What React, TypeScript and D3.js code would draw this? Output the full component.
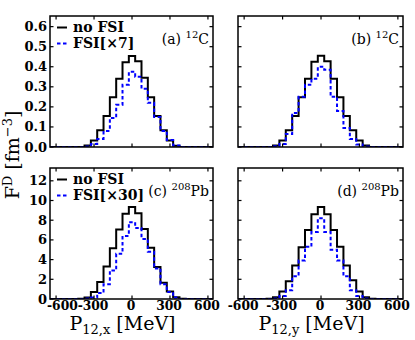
import React, { useRef, useEffect } from "react";
import * as d3 from "d3";

// bin centres in MeV, 50 MeV wide bins
const binCenters = [-400, -350, -300, -250, -200, -150, -100, -50, 0, 50, 100, 150, 200, 250, 300, 350, 400];
const binWidth = 50;

// 12C, P12,x
const carbonXNoFsi = [0, 0.007, 0.033, 0.083, 0.155, 0.248, 0.34, 0.423, 0.453, 0.428, 0.345, 0.248, 0.155, 0.083, 0.033, 0.006, 0];
const carbonXFsi = [0, 0.003, 0.015, 0.04, 0.08, 0.145, 0.21, 0.31, 0.375, 0.35, 0.29, 0.22, 0.15, 0.08, 0.035, 0.008, 0];
// 12C, P12,y
const carbonYNoFsi = [0, 0.007, 0.033, 0.083, 0.155, 0.248, 0.34, 0.425, 0.455, 0.428, 0.34, 0.248, 0.155, 0.083, 0.033, 0.007, 0];
const carbonYFsi = [0, 0.004, 0.015, 0.065, 0.17, 0.25, 0.31, 0.34, 0.4, 0.385, 0.25, 0.18, 0.095, 0.04, 0.012, 0.003, 0];
// 208Pb, P12,x
const leadXNoFsi = [0.02, 0.15, 0.72, 1.72, 3.3, 5.15, 7.05, 8.65, 9.35, 8.7, 7.1, 5.2, 3.25, 1.65, 0.75, 0.17, 0.02];
const leadXFsi = [0, 0.05, 0.15, 0.6, 1.5, 2.9, 4.6, 6.4, 7.8, 7.2, 6.1, 4.8, 3.1, 1.5, 0.7, 0.15, 0];
// 208Pb, P12,y
const leadYNoFsi = [0.02, 0.17, 0.75, 1.8, 3.4, 5.25, 7.0, 8.6, 9.35, 8.6, 7.0, 5.3, 3.4, 1.9, 0.75, 0.17, 0.02];
const leadYFsi = [0, 0.05, 0.3, 0.9, 2.3, 3.9, 5.3, 6.8, 8.2, 6.8, 5.0, 3.9, 2.3, 0.9, 0.3, 0.05, 0];

const xTicks = [-600, -300, 0, 300, 600];
const carbonTicks = [0, 0.1, 0.2, 0.3, 0.4, 0.5, 0.6];
const leadTicks = [0, 2, 4, 6, 8, 10, 12];

const FONT = "'DejaVu Serif', serif";
const BLUE = "#0000ff";

const App = () => {
    const svgRef = useRef(null);

    useEffect(() => {
        const svg = d3.select(svgRef.current);
        svg.selectAll("*").remove();

        const xDomain = [-648, 640];
        const cols = [[50, 213], [238, 403]];
        const rows = [[147, 16], [299, 168]];

        const panels = [
            { col: 0, row: 0, noFsi: carbonXNoFsi, fsi: carbonXFsi, yMax: 0.653, ticks: carbonTicks, fmt: d3.format(".1f"), label: "(a)", nuc: "12", el: "C", legend: "FSI[×7]", yLabels: true, xLabels: false },
            { col: 1, row: 0, noFsi: carbonYNoFsi, fsi: carbonYFsi, yMax: 0.653, ticks: carbonTicks, fmt: d3.format(".1f"), label: "(b)", nuc: "12", el: "C", legend: null, yLabels: false, xLabels: false },
            { col: 0, row: 1, noFsi: leadXNoFsi, fsi: leadXFsi, yMax: 13.3, ticks: leadTicks, fmt: d3.format("d"), label: "(c)", nuc: "208", el: "Pb", legend: "FSI[×30]", yLabels: true, xLabels: true },
            { col: 1, row: 1, noFsi: leadYNoFsi, fsi: leadYFsi, yMax: 13.3, ticks: leadTicks, fmt: d3.format("d"), label: "(d)", nuc: "208", el: "Pb", legend: null, yLabels: false, xLabels: true },
        ];

        panels.forEach((p, i) => {
            const x = d3.scaleLinear().domain(xDomain).range(cols[p.col]);
            const y = d3.scaleLinear().domain([0, p.yMax]).range(rows[p.row]);
            const [x0, x1] = cols[p.col];
            const [yb, yt] = rows[p.row];
            const g = svg.append("g");

            g.append("clipPath").attr("id", "clip" + i)
                .append("rect").attr("x", x0).attr("y", yt).attr("width", x1 - x0).attr("height", yb - yt);

            // stairs through the bin edges
            const stairs = (vals) => {
                const pts = [[xDomain[0], 0], [binCenters[0] - binWidth / 2, 0]];
                binCenters.forEach((c, k) => {
                    pts.push([c - binWidth / 2, vals[k]]);
                    pts.push([c + binWidth / 2, vals[k]]);
                });
                pts.push([binCenters[binCenters.length - 1] + binWidth / 2, 0]);
                pts.push([xDomain[1], 0]);
                return d3.line().x(d => x(d[0])).y(d => y(d[1]))(pts);
            };

            const plot = g.append("g").attr("clip-path", `url(#clip${i})`);
            plot.append("path").attr("d", stairs(p.noFsi))
                .attr("fill", "none").attr("stroke", "#000").attr("stroke-width", 2);
            plot.append("path").attr("d", stairs(p.fsi))
                .attr("fill", "none").attr("stroke", BLUE).attr("stroke-width", 2)
                .attr("stroke-dasharray", "3.5,2.5");

            // frame + inward ticks on all sides
            g.append("rect").attr("x", x0).attr("y", yt).attr("width", x1 - x0).attr("height", yb - yt)
                .attr("fill", "none").attr("stroke", "#000").attr("stroke-width", 1.5);
            const tl = 3.5;
            xTicks.forEach(t => {
                g.append("line").attr("x1", x(t)).attr("x2", x(t)).attr("y1", yb).attr("y2", yb - tl).attr("stroke", "#000").attr("stroke-width", 1.2);
                g.append("line").attr("x1", x(t)).attr("x2", x(t)).attr("y1", yt).attr("y2", yt + tl).attr("stroke", "#000").attr("stroke-width", 1.2);
            });
            p.ticks.forEach(t => {
                g.append("line").attr("x1", x0).attr("x2", x0 + tl).attr("y1", y(t)).attr("y2", y(t)).attr("stroke", "#000").attr("stroke-width", 1.2);
                g.append("line").attr("x1", x1).attr("x2", x1 - tl).attr("y1", y(t)).attr("y2", y(t)).attr("stroke", "#000").attr("stroke-width", 1.2);
            });

            if (p.yLabels) {
                p.ticks.forEach(t => {
                    g.append("text").attr("x", x0 - 3).attr("y", y(t) + 4.5)
                        .attr("text-anchor", "end").attr("font-family", FONT).attr("font-weight", "bold")
                        .attr("font-size", 13).text(p.fmt(t));
                });
            }
            if (p.xLabels) {
                xTicks.forEach((t, k) => {
                    // first label of the left column sits just right of the "0" y label
                    const shiftFirst = p.col === 0 && k === 0;
                    g.append("text").attr("x", shiftFirst ? x0 - 3 : x(t) - 1).attr("y", yb + 11)
                        .attr("text-anchor", shiftFirst ? "start" : "middle").attr("font-family", FONT).attr("font-weight", "bold")
                        .attr("font-size", 12.3).text(t < 0 ? "-" + Math.abs(t) : String(t));
                });
                const title = g.append("text").attr("x", (x0 + x1) / 2 - 9).attr("y", yb + 31)
                    .attr("text-anchor", "middle").attr("font-family", FONT).attr("font-size", 19);
                title.append("tspan").text("P");
                title.append("tspan").attr("font-size", 13).attr("dy", 4).text(p.col === 0 ? "12,x" : "12,y");
                title.append("tspan").attr("dy", -4).text(" [MeV]");
            }

            // panel label
            const lab = g.append("text").attr("x", x1 - 4).attr("y", yt + 28)
                .attr("text-anchor", "end").attr("font-family", FONT).attr("font-size", 14);
            lab.append("tspan").text(p.label + " ");
            lab.append("tspan").attr("font-size", 10).attr("dy", -6).text(p.nuc);
            lab.append("tspan").attr("dy", 6).text(p.el);

            if (p.legend) {
                const ly1 = yt + 11.5, ly2 = yt + 27.5;
                g.append("line").attr("x1", x0 + 7).attr("x2", x0 + 17).attr("y1", ly1).attr("y2", ly1)
                    .attr("stroke", "#000").attr("stroke-width", 2);
                g.append("line").attr("x1", x0 + 7).attr("x2", x0 + 17).attr("y1", ly2).attr("y2", ly2)
                    .attr("stroke", BLUE).attr("stroke-width", 2).attr("stroke-dasharray", "3.5,2.5");
                g.append("text").attr("x", x0 + 23).attr("y", ly1 + 4.5).attr("font-family", FONT)
                    .attr("font-weight", "bold").attr("font-size", 14).text("no FSI");
                g.append("text").attr("x", x0 + 23).attr("y", ly2 + 4.5).attr("font-family", FONT)
                    .attr("font-weight", "bold").attr("font-size", 14).text(p.legend);
            }
        });

        // y axis title
        const yt = svg.append("text").attr("transform", "translate(19,155) rotate(-90)")
            .attr("text-anchor", "middle").attr("font-family", FONT).attr("font-size", 19);
        yt.append("tspan").text("F");
        yt.append("tspan").attr("font-size", 13).attr("dy", -7).text("D");
        yt.append("tspan").attr("dy", 7).text(" [fm");
        yt.append("tspan").attr("font-size", 13).attr("dy", -7).text("−3");
        yt.append("tspan").attr("dy", 7).text("]");
    }, []);

    return (
        <svg ref={svgRef} width={415} height={340}
            style={{ position: "absolute", left: 0, top: 0, background: "#fff" }} />
    );
};

export default App;
